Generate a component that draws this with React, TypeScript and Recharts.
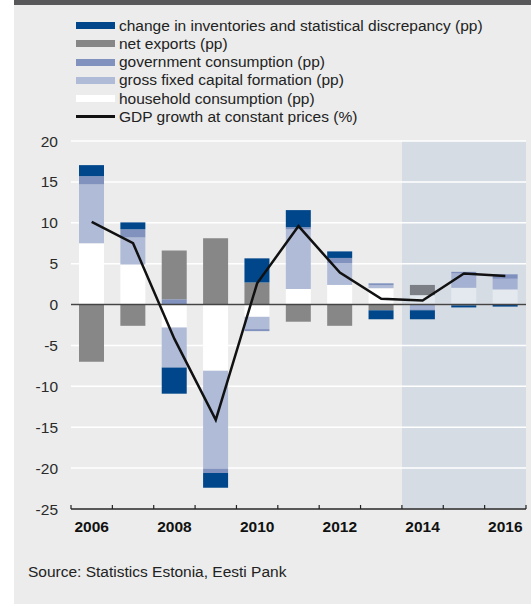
import React from 'react';
import {
  ComposedChart,
  Bar,
  Line,
  XAxis,
  YAxis,
  CartesianGrid,
  ReferenceLine,
  Cell,
} from 'recharts';

const years = [2006, 2007, 2008, 2009, 2010, 2011, 2012, 2013, 2014, 2015, 2016];
const household = [7.5, 4.9, -2.8, -8.1, -1.5, 1.9, 2.4, 2.0, 1.15, 2.05, 1.85];
const gfcf = [7.2, 3.3, -4.9, -12.0, -1.5, 7.3, 2.65, 0.35, -0.6, 1.75, 1.3];
const government = [1.0, 1.0, 0.65, -0.5, -0.25, 0.25, 0.65, 0.25, -0.1, 0.2, 0.55];
const netExports = [-7.0, -2.6, 5.95, 8.1, 2.7, -2.1, -2.6, -0.7, 1.25, -0.1, -0.05];
const inventories = [1.35, 0.85, -3.2, -1.8, 2.95, 2.1, 0.8, -1.1, -1.1, -0.25, -0.2];
const gdp = [10.1, 7.5, -4.2, -14.1, 2.6, 9.6, 3.9, 0.7, 0.5, 3.8, 3.5];

const yTicks = [-25, -20, -15, -10, -5, 0, 5, 10, 15, 20];
const xTicks = [
  2005.5, 2006, 2006.5, 2007.5, 2008, 2008.5, 2009.5, 2010, 2010.5, 2011.5, 2012, 2012.5,
  2013.5, 2014, 2014.5, 2015.5, 2016, 2016.5,
];
const FORECAST_FROM = 2014;

const data = years.map((year, i) => ({
  year,
  household: household[i],
  gfcf: gfcf[i],
  government: government[i],
  netExports: netExports[i],
  inventories: inventories[i],
  gdp: gdp[i],
}));

const FONT = '"Liberation Sans", Arial, sans-serif';

// colours: history / forecast
const series = [
  { key: 'household', color: '#ffffff', fc: '#e4e9f0' },
  { key: 'gfcf', color: '#b0bbd8', fc: '#a4b1d3' },
  { key: 'government', color: '#8292bf', fc: '#7f90bf' },
  { key: 'netExports', color: '#878787', fc: '#7c8086' },
  { key: 'inventories', color: '#00468b', fc: '#00468b' },
];

const legendRows = [
  { label: 'change in inventories and statistical discrepancy (pp)', color: '#00468b' },
  { label: 'net exports (pp)', color: '#878787' },
  { label: 'government consumption (pp)', color: '#8292bf' },
  { label: 'gross fixed capital formation (pp)', color: '#b0bbd8' },
  { label: 'household consumption (pp)', color: '#ffffff' },
];

const YearTick = (props: any) => {
  const { x, y, payload } = props;
  const v = payload.value as number;
  if (v % 1 !== 0) {
    return <line x1={x} x2={x} y1={y} y2={y - 4} stroke="#222" strokeWidth={1.2} />;
  }
  if (v % 2 !== 0) return null;
  return (
    <text x={x} y={y + 23} textAnchor="middle" fontSize={15.5} fontWeight="bold" fill="#111" fontFamily={FONT}>
      {v}
    </text>
  );
};

// x position where the forecast shading starts
const forecastEdge = (args: any) => {
  const scale = args?.xAxis?.scale;
  if (typeof scale === 'function') return [scale(FORECAST_FROM - 0.5)];
  const { offset } = args;
  return [offset.left + (offset.width * (FORECAST_FROM - 0.5 - 2005.5)) / 11];
};

const App = () => {
  return (
    <div style={{ position: 'absolute', left: 0, top: 0, width: 531, height: 604, background: '#fff', fontFamily: FONT }}>
      <div style={{ position: 'absolute', left: 14, top: 0, width: 517, height: 604, background: '#ebeceb' }} />
      <div style={{ position: 'absolute', left: 14, top: 0, width: 517, height: 5, background: '#58585a' }} />

      {/* legend */}
      {legendRows.map((r, i) => (
        <div
          key={r.label}
          style={{ position: 'absolute', left: 76, top: 25.7 + i * 18.2 - 9, height: 18, display: 'flex', alignItems: 'center' }}
        >
          <div style={{ width: 39, height: 7, background: r.color, marginRight: 4 }} />
          <span style={{ fontSize: 15.5, color: '#222', whiteSpace: 'nowrap' }}>{r.label}</span>
        </div>
      ))}
      <div style={{ position: 'absolute', left: 76, top: 25.7 + 5 * 18.2 - 9, height: 18, display: 'flex', alignItems: 'center' }}>
        <div style={{ width: 39, height: 2.5, background: '#111', marginRight: 4 }} />
        <span style={{ fontSize: 15.5, color: '#222', whiteSpace: 'nowrap' }}>GDP growth at constant prices (%)</span>
      </div>

      <div style={{ position: 'absolute', left: 0, top: 0 }}>
        <ComposedChart
          width={531}
          height={604}
          data={data}
          stackOffset="sign"
          margin={{ top: 141, right: 5, bottom: 65, left: 0 }}
        >
          {/* forecast shading as a grid stripe, under the white grid lines */}
          <CartesianGrid
            horizontal={false}
            vertical
            stroke="none"
            verticalFill={['none', '#d5dce3']}
            fillOpacity={1}
            verticalCoordinatesGenerator={forecastEdge}
          />
          <CartesianGrid vertical={false} stroke="#ffffff" strokeWidth={1.5} />
          <XAxis
            dataKey="year"
            type="number"
            domain={[2005.5, 2016.5]}
            ticks={xTicks}
            interval={0}
            tickSize={0}
            tickMargin={0}
            tickLine={false}
            tick={<YearTick />}
            axisLine={{ stroke: '#222', strokeWidth: 1.5 }}
            height={30}
          />
          <YAxis
            domain={[-25, 20]}
            ticks={yTicks}
            interval={0}
            width={71}
            axisLine={false}
            tickLine={false}
            tickSize={0}
            tickMargin={13}
            tick={{ fontSize: 15.5, fill: '#2a2a2a', fontFamily: FONT }}
          />
          {series.map((s) => (
            <Bar key={s.key} dataKey={s.key} stackId="a" barSize={25} fill={s.color} isAnimationActive={false}>
              {data.map((d) => (
                <Cell key={d.year} fill={d.year >= FORECAST_FROM ? s.fc : s.color} />
              ))}
            </Bar>
          ))}
          <ReferenceLine y={0} stroke="#444" strokeWidth={1.5} />
          <Line
            dataKey="gdp"
            type="linear"
            stroke="#111"
            strokeWidth={2.5}
            dot={false}
            isAnimationActive={false}
          />
        </ComposedChart>
      </div>

      <div style={{ position: 'absolute', left: 28, top: 563, fontSize: 15.5, color: '#222', whiteSpace: 'nowrap' }}>
        Source: Statistics Estonia, Eesti Pank
      </div>
    </div>
  );
};

export default App;
